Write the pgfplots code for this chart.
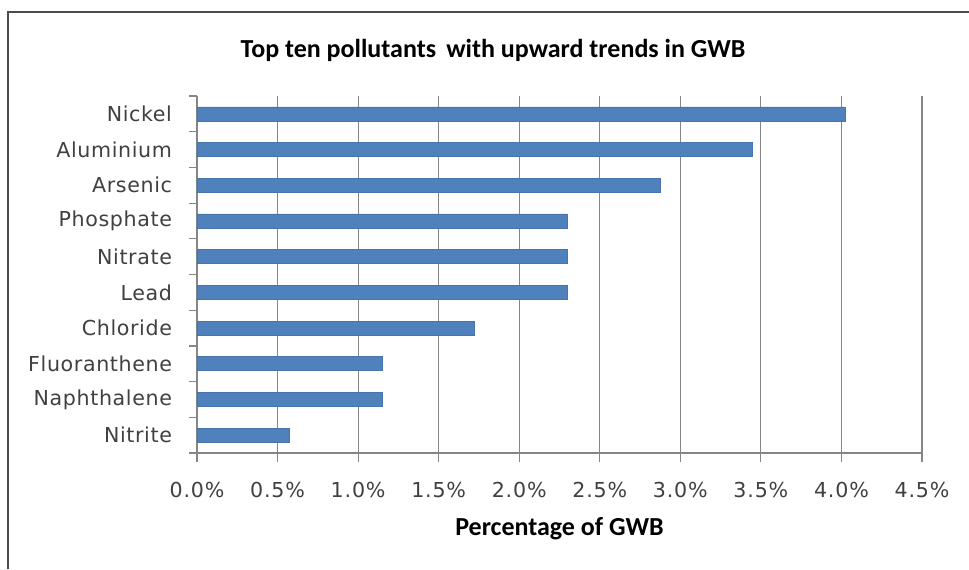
\documentclass[border=0pt]{standalone}
\usepackage{pgfplots}
\pgfplotsset{compat=1.18}
\usepackage{fontspec}
\setmainfont{DejaVu Sans}
\newfontfamily\titlefont{Carlito}
\newfontfamily\tickfont[LetterSpace=3]{DejaVu Sans}
\newfontfamily\xtickfont[LetterSpace=4]{DejaVu Sans}
\definecolor{barblue}{HTML}{4F81BD}
\definecolor{gridgray}{HTML}{868686}
\definecolor{labelgray}{HTML}{404040}
\begin{document}
\begin{tikzpicture}
\useasboundingbox (0,0) rectangle (484.5pt,284.5pt);
\fill[white] (0,0) rectangle (484.5pt,284.5pt);
\draw[line width=1pt, gray!60!black] (4pt,0) -- (4pt,278.5pt) -- (484.5pt,278.5pt);
\node[font=\titlefont\bfseries\fontsize{13}{15}\selectfont, text=black] at (246.5pt,259.5pt) {Top ten pollutants\, with upward trends in GWB};
\begin{axis}[
  at={(98.5pt,58pt)}, anchor=south west,
  width=362.5pt, height=178.5pt, scale only axis,
  xbar, bar width=7pt,
  xmin=0, xmax=4.5,
  ymin=-0.5, ymax=9.5,
  axis x line=bottom, axis y line=left,
  axis line style={gridgray, line width=0.6pt, -},
  xtick={0,0.5,...,4.5},
  xmajorgrids, grid style={gridgray, line width=0.6pt},
  xticklabel={\pgfmathprintnumber[fixed,fixed zerofill,precision=1]{\tick}\%},
  /pgf/number format/assume math mode=true,
  tick align=outside,
  major tick length=4.5pt,
  tick style={gridgray, line width=0.6pt},
  ytick={0,...,9},
  yticklabels={Nitrite,Naphthalene,Fluoranthene,Chloride,Lead,Nitrate,Phosphate,Arsenic,Aluminium,Nickel},
  y tick style={draw=none},
  extra y ticks={-0.5,0.5,...,9.5},
  extra y tick labels={},
  extra y tick style={y tick style={draw=gridgray}, grid=none, major tick length=4pt},
  yticklabel style={font=\tickfont\fontsize{10.3}{12}\selectfont, text=labelgray, xshift=-4.5pt},
  xticklabel style={font=\xtickfont\fontsize{10.3}{12}\selectfont, text=labelgray, yshift=-6.5pt},
  xlabel={Percentage of GWB},
  xlabel style={font=\titlefont\bfseries\fontsize{13}{15}\selectfont, text=black, yshift=-3pt},
  clip=false,
]
\addplot[fill=barblue, draw=barblue!90!black, line width=0.3pt] coordinates {
 (0.575,0) (1.149,1) (1.149,2) (1.724,3) (2.299,4) (2.299,5) (2.299,6) (2.874,7) (3.448,8) (4.023,9)
};
\end{axis}
\end{tikzpicture}
\end{document}
